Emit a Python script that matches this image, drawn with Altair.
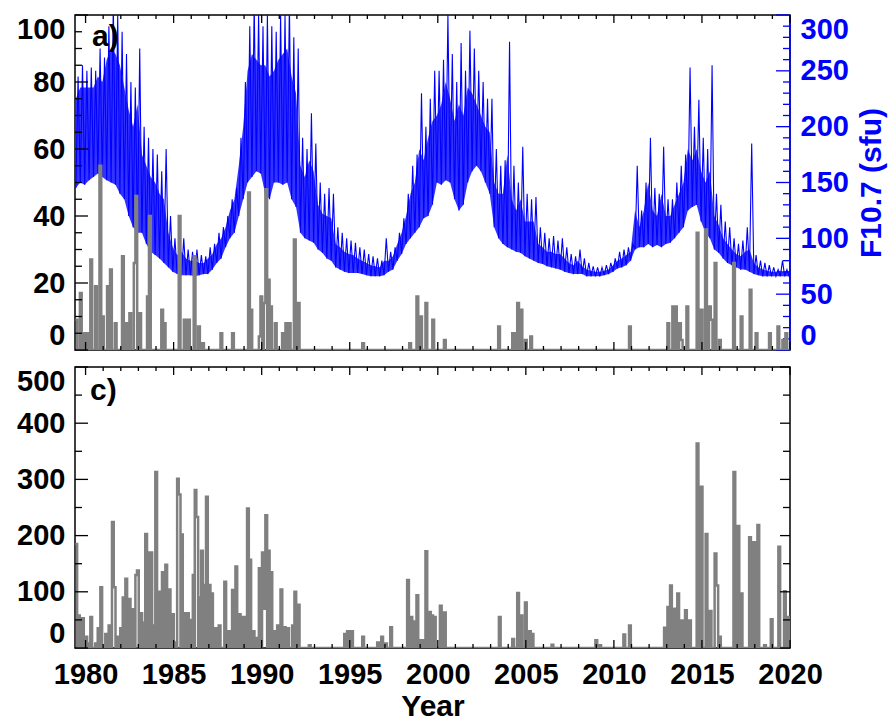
import altair as alt
import pandas as pd

# ---------------- data ----------------
# F10.7 (sfu): lower edge, upper edge of the dense band and spike peaks,
# sampled every quarter year starting 1979.45
F107_LOW = [
    145, 150, 148,
    152, 155, 158, 155,   # 1980
    152, 150, 148, 140,   # 1981
    135, 120, 110, 105,   # 1982
    105, 95, 88, 85,      # 1983
    82, 78, 74, 70,       # 1984
    68, 67, 67, 67,       # 1985
    66, 67, 68, 68,       # 1986
    72, 78, 82, 92,       # 1987
    100, 105, 120, 135,   # 1988
    150, 155, 160, 158,   # 1989
    140, 135, 150, 150,   # 1990
    148, 150, 135, 128,   # 1991
    105, 100, 98, 96,     # 1992
    90, 87, 82, 80,       # 1993
    74, 72, 70, 69,       # 1994
    69, 69, 68, 67,       # 1995
    66, 66, 66, 67,       # 1996
    70, 72, 80, 86,       # 1997
    95, 100, 105, 110,    # 1998
    118, 120, 130, 150,   # 1999
    148, 152, 150, 135,   # 2000
    125, 130, 150, 160,   # 2001
    165, 160, 150, 140,   # 2002
    110, 100, 95, 92,     # 2003
    90, 88, 87, 84,       # 2004
    82, 80, 78, 77,       # 2005
    75, 74, 73, 72,       # 2006
    70, 69, 68, 68,       # 2007
    68, 66, 66, 66,       # 2008
    66, 67, 68, 70,       # 2009
    73, 74, 76, 80,       # 2010
    90, 92, 92, 95,       # 2011
    92, 94, 92, 95,       # 2012
    96, 100, 105, 110,    # 2013
    125, 128, 130, 115,   # 2014
    105, 100, 90, 87,     # 2015
    82, 78, 76, 74,       # 2016
    72, 72, 70, 68,       # 2017
    67, 66, 66, 66,       # 2018
    66, 66, 66, 66,       # 2019
]
F107_TOP = [
    225, 235, 235,
    235, 235, 245, 240,   # 1980
    260, 270, 265, 255,   # 1981
    235, 215, 200, 220,   # 1982
    175, 165, 155, 150,   # 1983
    140, 135, 105, 92,    # 1984
    85, 88, 82, 80,       # 1985
    80, 78, 78, 82,       # 1986
    86, 95, 100, 110,     # 1987
    125, 135, 165, 200,   # 1988
    250, 265, 260, 255,   # 1989
    255, 245, 250, 260,   # 1990
    265, 270, 245, 230,   # 1991
    165, 155, 170, 160,   # 1992
    130, 122, 120, 118,   # 1993
    95, 92, 88, 86,       # 1994
    85, 82, 80, 78,       # 1995
    76, 75, 74, 80,       # 1996
    80, 84, 95, 105,      # 1997
    120, 140, 150, 180,   # 1998
    170, 190, 205, 210,   # 1999
    220, 240, 225, 205,   # 2000
    220, 210, 235, 230,   # 2001
    220, 210, 200, 195,   # 2002
    150, 140, 140, 175,   # 2003
    135, 125, 135, 115,   # 2004
    115, 115, 95, 92,     # 2005
    88, 88, 86, 86,       # 2006
    82, 78, 76, 80,       # 2007
    75, 72, 71, 70,       # 2008
    70, 71, 72, 76,       # 2009
    80, 82, 85, 88,       # 2010
    125, 110, 125, 150,   # 2011
    125, 120, 140, 120,   # 2012
    120, 130, 140, 150,   # 2013
    180, 170, 180, 160,   # 2014
    150, 160, 120, 112,   # 2015
    100, 95, 90, 86,      # 2016
    84, 88, 90, 78,       # 2017
    74, 72, 71, 70,       # 2018
    70, 71, 70, 70,       # 2019
]
F107_HIGH = [
    245, 255, 250,
    253, 250, 270, 262,   # 1980
    290, 310, 300, 285,   # 1981
    265, 240, 235, 270,   # 1982
    200, 190, 180, 175,   # 1983
    160, 180, 120, 100,   # 1984
    95, 100, 90, 88,      # 1985
    90, 85, 84, 92,       # 1986
    95, 105, 110, 120,    # 1987
    135, 145, 190, 240,   # 1988
    290, 310, 300, 290,   # 1989
    300, 290, 285, 300,   # 1990
    300, 310, 280, 270,   # 1991
    190, 180, 212, 185,   # 1992
    150, 140, 145, 140,   # 1993
    110, 105, 100, 98,    # 1994
    96, 92, 90, 86,       # 1995
    84, 82, 80, 100,      # 1996
    88, 92, 105, 118,     # 1997
    140, 165, 175, 230,   # 1998
    200, 225, 250, 250,   # 1999
    260, 300, 265, 240,   # 2000
    275, 250, 286, 270,   # 2001
    250, 240, 225, 225,   # 2002
    180, 165, 170, 276,   # 2003
    165, 150, 182, 140,   # 2004
    135, 137, 110, 105,   # 2005
    100, 102, 98, 100,    # 2006
    92, 86, 84, 90,       # 2007
    82, 78, 75, 74,       # 2008
    74, 76, 78, 82,       # 2009
    88, 90, 92, 95,       # 2010
    165, 125, 150, 190,   # 2011
    145, 140, 182, 135,   # 2012
    135, 150, 165, 175,   # 2013
    253, 200, 224, 190,   # 2014
    180, 255, 140, 130,   # 2015
    115, 110, 100, 95,    # 2016
    98, 110, 185, 85,     # 2017
    80, 78, 76, 74,       # 2018
    72, 80, 72, 72,       # 2019
]
F107_START = 1979.45
F107_STEP = 0.25

# panel a) gray histogram (left axis 0-100)
A_T = [1979.43, 1979.68, 1979.90, 1980.14, 1980.27, 1980.54, 1980.79, 1980.93, 1981.22,
       1981.39, 1981.66, 1982.07, 1982.30, 1982.49, 1982.74, 1982.83, 1983.05, 1983.49,
       1983.60, 1984.30, 1984.44, 1985.29, 1985.58, 1985.82, 1986.14, 1986.39, 1986.62,
       1987.66, 1988.32, 1989.23, 1989.36, 1989.84, 1989.93, 1990.12, 1990.21, 1990.35,
       1990.48, 1990.75, 1991.16, 1991.35, 1991.54, 1991.83, 1992.05, 1995.71, 1998.38,
       1998.79, 1999.00, 1999.30, 1999.69, 2000.35, 2003.43, 2004.23, 2004.40, 2004.51,
       2004.70, 2004.95, 2005.25, 2010.86, 2013.04, 2013.32, 2013.47, 2013.70, 2013.80,
       2014.12, 2014.70, 2014.93, 2015.18, 2015.40, 2015.50, 2015.72, 2015.97, 2016.77,
       2017.20, 2017.71, 2018.05, 2018.81, 2019.29, 2019.57, 2019.74]
A_V = [9, 17, 5, 5, 27, 19, 55, 10, 19,
       24, 8, 28, 8, 11, 26, 46, 11, 16,
       40, 12, 8, 40, 9, 9, 28, 7, 2,
       5, 5, 47, 12, 4, 16, 14, 48, 21,
       13, 8, 5, 8, 8, 33, 14, 2, 2,
       16, 10, 14, 9, 3, 7, 5, 5, 14,
       12, 3, 4, 7, 8, 13, 13, 8, 3,
       13, 35, 12, 36, 13, 9, 26, 3, 26,
       10, 18, 5, 5, 7, 3, 5]

# panel c) gray histogram (0-500)
C_T = [1979.42, 1979.57, 1979.80, 1979.99, 1980.14, 1980.27, 1980.55, 1980.69, 1980.84,
       1981.12, 1981.31, 1981.50, 1981.60, 1981.79, 1981.97, 1982.11, 1982.26, 1982.45,
       1982.64, 1982.83, 1982.92, 1983.11, 1983.26, 1983.39, 1983.53, 1983.68, 1983.81,
       1983.96, 1984.11, 1984.34, 1984.53, 1984.72, 1984.91, 1985.04, 1985.20, 1985.29,
       1985.42, 1985.58, 1985.76, 1985.95, 1986.09, 1986.20, 1986.29, 1986.43, 1986.56,
       1986.71, 1986.84, 1986.99, 1987.13, 1987.32, 1987.56, 1987.88, 1988.08, 1988.32,
       1988.51, 1988.70, 1988.93, 1989.17, 1989.30, 1989.49, 1989.68, 1989.84, 1990.02,
       1990.12, 1990.21, 1990.35, 1990.50, 1990.69, 1990.88, 1991.07, 1991.26, 1991.45,
       1991.73, 1991.86, 1992.05, 1992.68, 1994.69, 1994.85, 1995.08, 1995.71, 1996.56,
       1996.79, 1997.01, 1997.30, 1998.26, 1998.45, 1998.64, 1998.79, 1998.93, 1999.12,
       1999.30, 1999.50, 1999.63, 1999.78, 2000.12, 2000.35, 2003.47, 2004.23, 2004.51,
       2004.70, 2004.95, 2005.18, 2005.33, 2006.46, 2008.95, 2009.17, 2010.54, 2010.86,
       2012.85, 2013.04, 2013.19, 2013.32, 2013.45, 2013.60, 2013.80, 2014.04, 2014.27,
       2014.70, 2014.93, 2015.21, 2015.44, 2015.72, 2015.82, 2015.97, 2016.79, 2017.02,
       2017.20, 2017.68, 2017.92, 2018.15, 2018.53, 2018.91, 2019.34, 2019.66, 2019.85]
C_V = [185, 58, 53, 20, 8, 55, 8, 35, 108,
       25, 40, 224, 108, 20, 35, 90, 123, 87,
       69, 130, 138, 62, 45, 203, 170, 170, 40,
       313, 100, 135, 148, 104, 60, 10, 301, 273,
       202, 62, 62, 50, 130, 281, 233, 90, 173,
       112, 269, 112, 97, 35, 40, 118, 30, 103,
       145, 60, 55, 248, 157, 30, 18, 142, 170,
       70, 236, 173, 135, 30, 40, 104, 37, 35,
       40, 100, 77, 5, 25, 30, 30, 20, 10,
       20, 8, 37, 121, 55, 47, 94, 14, 14,
       172, 64, 58, 55, 75, 63, 55, 16, 98,
       58, 81, 30, 25, 6, 14, 5, 24, 40,
       36, 73, 111, 69, 70, 97, 49, 67, 49,
       364, 287, 203, 66, 168, 111, 20, 313, 217,
       97, 197, 188, 219, 5, 51, 180, 101, 55]

X_MAJOR = [1980, 1985, 1990, 1995, 2000, 2005, 2010, 2015, 2020]
X_MINOR = [y for y in range(1980, 2021) if y % 5 != 0]
A_MAJOR = [0, 20, 40, 60, 80, 100]
A_MINOR = [5, 10, 15, 25, 30, 35, 45, 50, 55, 65, 70, 75, 85, 90, 95]
F_MAJOR = [0, 50, 100, 150, 200, 250, 300]
F_MINOR = [10, 20, 30, 40, 60, 70, 80, 90, 110, 120, 130, 140, 160, 170, 180, 190,
           210, 220, 230, 240, 260, 270, 280, 290]
C_MAJOR = [0, 100, 200, 300, 400, 500]
C_MINOR = [50, 150, 250, 350, 450]

# ---------------- layout / style ----------------
W = 715
H1 = 335
H2 = 281
X0, X1 = 1979.4, 2020.0
BIN = 0.1
GRAY = "#808080"
BLUE = "#0000FF"
FONT = "Liberation Sans"


def step_table(ts, vs, end):
    rows = []
    for i, (t, v) in enumerate(zip(ts, vs)):
        rows.append((t, v))
        nxt = ts[i + 1] if i + 1 < len(ts) else end
        stop = min(t + BIN, nxt)
        if stop < nxt:
            rows.append((stop, 0))
    rows.append((end, 0))
    return pd.DataFrame(rows, columns=["t", "v"])


f_rows = []
band_rows = []
for k, (lo, tp, hi) in enumerate(zip(F107_LOW, F107_TOP, F107_HIGH)):
    t = F107_START + F107_STEP * k
    f_rows.append((t, lo))
    f_rows.append((t + F107_STEP / 2, hi))
    band_rows.append((t, lo, tp))
df_f = pd.DataFrame(f_rows, columns=["t", "f"])
df_band = pd.DataFrame(band_rows, columns=["t", "lo", "tp"])
df_a = step_table(A_T, A_V, X1)
df_c = step_table(C_T, C_V, X1)

xs = alt.Scale(domain=[X0, X1], nice=False, zero=False)
ya = alt.Scale(domain=[0, 100], nice=False, zero=False)
yf = alt.Scale(domain=[0, 300], nice=False, zero=False)
yc = alt.Scale(domain=[0, 500], nice=False, zero=False)

AX_A = alt.Axis(orient="left", values=A_MAJOR, labelFlush=True, labelPadding=10, title=None)
AX_F = alt.Axis(orient="right", values=F_MAJOR, labelFlush=True, labelColor=BLUE,
                labelPadding=10, title="F10.7 (sfu)", titleColor=BLUE, titleAngle=270,
                titleBaseline="top", titlePadding=8, titleFontSize=30)
AX_C = alt.Axis(orient="left", values=C_MAJOR, labelFlush=True, labelPadding=10, title=None)
AX_X = alt.Axis(values=X_MAJOR, format="d", labelPadding=12, labelFlush=False,
                labelOverlap=False, title="Year", titlePadding=2,
                titleFontSize=30, labelFontSize=29)


def yticks(vals, scale, axis, left, length, color):
    d = pd.DataFrame({"v": vals})
    xa, xb = (0, length) if left else (W, W - length)
    return alt.Chart(d).mark_rule(color=color, strokeWidth=1.3).encode(
        y=alt.Y("v:Q", scale=scale, axis=axis),
        x=alt.value(xa), x2=alt.value(xb))


def xticks(vals, h, length, axis):
    d = pd.DataFrame({"t": vals})
    top = alt.Chart(d).mark_rule(color="black", strokeWidth=1.3).encode(
        x=alt.X("t:Q", scale=xs, axis=axis), y=alt.value(0), y2=alt.value(length))
    bot = alt.Chart(d).mark_rule(color="black", strokeWidth=1.3).encode(
        x=alt.X("t:Q", scale=xs, axis=axis), y=alt.value(h), y2=alt.value(h - length))
    return [top, bot]


def panel_label(txt, x, y):
    return alt.Chart(pd.DataFrame({"s": [txt]})).mark_text(
        font=FONT, fontWeight="bold", fontSize=30, align="left", baseline="alphabetic",
        color="black").encode(text="s:N", x=alt.value(x), y=alt.value(y))


# ---- top panel ----
blue_band = alt.Chart(df_band).mark_area(color=BLUE, opacity=0.8, clip=True).encode(
    x=alt.X("t:Q", scale=xs, axis=None),
    y=alt.Y("lo:Q", scale=yf, axis=AX_F),
    y2="tp:Q")
blue_line = alt.Chart(df_f).mark_line(color=BLUE, strokeWidth=1.1, clip=True).encode(
    x=alt.X("t:Q", scale=xs, axis=None),
    y=alt.Y("f:Q", scale=yf, axis=AX_F))
blue_frame = alt.Chart(pd.DataFrame({"s": [0]})).mark_rule(color=BLUE, strokeWidth=1.5).encode(
    x=alt.value(W), y=alt.value(0), y2=alt.value(H1))
blue_part = alt.layer(
    blue_band,
    blue_line,
    yticks(F_MAJOR, yf, AX_F, False, 14, BLUE),
    yticks(F_MINOR, yf, AX_F, False, 7, BLUE),
    blue_frame,
)

gray_a = alt.Chart(df_a).mark_line(interpolate="step-after", color=GRAY, strokeWidth=2.5,
                                   clip=True).encode(
    x=alt.X("t:Q", scale=xs, axis=None),
    y=alt.Y("v:Q", scale=ya, axis=AX_A))
gray_part = alt.layer(
    gray_a,
    yticks(A_MAJOR, ya, AX_A, True, 13, "black"),
    yticks(A_MINOR, ya, AX_A, True, 7, "black"),
    *xticks(X_MAJOR, H1, 8, None),
    *xticks(X_MINOR, H1, 4, None),
    panel_label("a)", 17, 31),
)

top = alt.layer(blue_part, gray_part).resolve_scale(y="independent").properties(
    width=W, height=H1)

# ---- bottom panel ----
gray_c = alt.Chart(df_c).mark_line(interpolate="step-after", color=GRAY, strokeWidth=2.5,
                                   clip=True).encode(
    x=alt.X("t:Q", scale=xs, axis=AX_X),
    y=alt.Y("v:Q", scale=yc, axis=AX_C))
bottom = alt.layer(
    gray_c,
    yticks(C_MAJOR, yc, AX_C, True, 13, "black"),
    yticks(C_MINOR, yc, AX_C, True, 7, "black"),
    yticks(C_MAJOR, yc, AX_C, False, 10, "black"),
    yticks(C_MINOR, yc, AX_C, False, 7, "black"),
    *xticks(X_MAJOR, H2, 8, AX_X),
    *xticks(X_MINOR, H2, 4, AX_X),
    panel_label("c)", 15, 33),
).properties(width=W, height=H2)

chart = alt.vconcat(top, bottom, spacing=13).properties(
    padding={"left": 15, "top": 13, "right": 0, "bottom": 0},
    background="white",
).configure_view(stroke="black", strokeWidth=1.5).configure_axis(
    grid=False, domain=False, ticks=False,
    labelFont=FONT, labelFontWeight="bold", labelFontSize=29, labelColor="black",
    titleFont=FONT, titleFontWeight="bold", titleFontSize=30, titleColor="black",
)

chart.save("out.html", embed_options={"renderer": "svg", "actions": False})
